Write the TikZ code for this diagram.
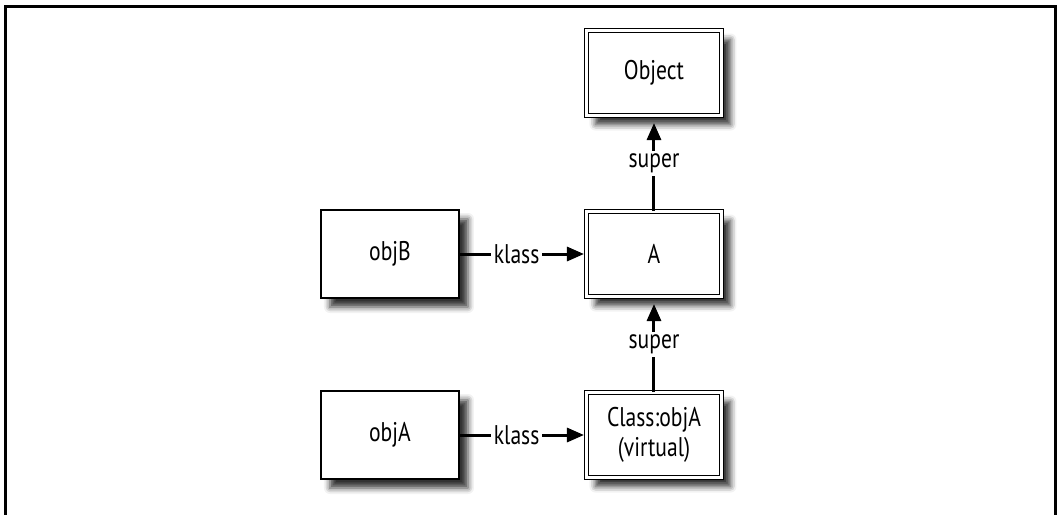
\documentclass[tikz,border=0pt]{standalone}
\usepackage{fontspec}
\setmainfont{PT Sans}[FakeStretch=0.8]
\usetikzlibrary{arrows.meta,shadows.blur}

\begin{document}
\begin{tikzpicture}[node distance=90.5pt, font=\fontsize{13.5}{15}\selectfont]
    % Define styles
    \tikzset{
        objbox/.style={rectangle, draw, line width=0.9pt, fill=white, minimum width=69pt, minimum height=44pt, align=center,
            blur shadow={shadow xshift=4.5pt, shadow yshift=-4.5pt, shadow blur radius=3pt, shadow opacity=80}},
        dblbox/.style={objbox, line width=0.5pt, double, double distance=1.6pt, minimum width=67.5pt, minimum height=42.5pt},
        arrow/.style={line width=1.5pt, -{Triangle[length=8.5pt, width=7pt]}},
        tag/.style={fill=white, inner sep=1.5pt}
    }
    \useasboundingbox (-327pt,36.5pt) rectangle (201.5pt,-221pt);

    % Frame
    \draw [line width=1.5pt] (-324.25pt,-222pt) -- (-324.25pt,33.5pt) -- (200.75pt,33.5pt) -- (200.75pt,-222pt);

    % Nodes
    \node (obj) [dblbox] {Object};
    \node (a) [dblbox, below of=obj] {A};
    \node (cls) [dblbox, below of=a] {Class:objA\\(virtual)};
    \node (objB) [objbox, left of=a, xshift=-41.5pt] {objB};
    \node (objA) [objbox, left of=cls, xshift=-41.5pt] {objA};

    % Arrows
    \draw [arrow, shorten >=1pt] (objB) -- node [tag, pos=0.45] {klass} (a);
    \draw [arrow, shorten >=1pt] (objA) -- node [tag, pos=0.45] {klass} (cls);
    \draw [arrow, shorten >=3.5pt] (a) -- node [tag] {super} (obj);
    \draw [arrow, shorten >=3.5pt] (cls) -- node [tag] {super} (a);
\end{tikzpicture}
\end{document}
